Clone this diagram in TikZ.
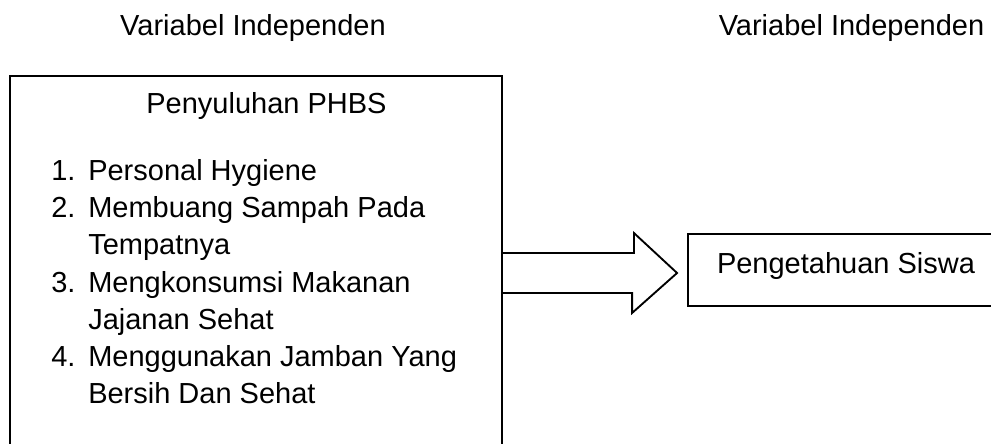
\documentclass[tikz,border=0pt]{standalone}
\usepackage{fontspec}
\setmainfont{Liberation Sans}
\usetikzlibrary{calc}
\usetikzlibrary{fit}

\begin{document}
\begin{tikzpicture}[
    x=0.75pt, y=-0.75pt,
    every node/.style={font=\fontsize{21.75}{26}\selectfont, inner sep=0pt},
    box/.style={draw, line width=1.4pt, inner sep=0pt},
    blockarrow/.style={draw, line width=1.4pt, line join=miter}]

    % page of 991 x 443, the boxes run off the right and bottom edge
    \useasboundingbox (0,0) rectangle (991,443);
    \clip (0,0) rectangle (991,443);

    % headings above the two columns
    \node [anchor=base] at (253,35) (headleft) {Variabel Independen};
    \node [anchor=base] at (851.5,35) (headright) {Variabel Independen};

    % big box on the left with the list
    \node [box, fit={(10,76) (502,470)}] (phbs) {};
    \node [anchor=base] at (266.5,113) (phbstitle) {Penyuluhan PHBS};

    \node [anchor=base west] at (51,180) (num1) {1.};
    \node [anchor=base west] at (88,180) (item1) {Personal Hygiene};
    \node [anchor=base west] at (51,217) (num2) {2.};
    \node [anchor=base west] at (88,217) (item2) {Membuang Sampah Pada};
    \node [anchor=base west] at (88,254) (item2b) {Tempatnya};
    \node [anchor=base west] at (51,292) (num3) {3.};
    \node [anchor=base west] at (88,292) (item3) {Mengkonsumsi Makanan};
    \node [anchor=base west] at (88,329) (item3b) {Jajanan Sehat};
    \node [anchor=base west] at (51,366) (num4) {4.};
    \node [anchor=base west] at (88,366) (item4) {Menggunakan Jamban Yang};
    \node [anchor=base west] at (88,403) (item4b) {Bersih Dan Sehat};

    % box on the right
    \node [box, fit={(688,234) (1010,306)}] (siswa) {};
    \node [anchor=base] at (846,273) (siswatext) {Pengetahuan Siswa};

    % block arrow from the left box to the right box
    \coordinate (tip) at ($(siswa.west)+(-10,3)$);
    \coordinate (tail) at (phbs.east |- tip);
    \draw [blockarrow] (tail) ++(0,-20) -- ++(131,0) -- ++(0,-20) -- (tip)
        -- ++(-45,40) -- ++(0,-20) -- ++(-131,0);

\end{tikzpicture}
\end{document}
